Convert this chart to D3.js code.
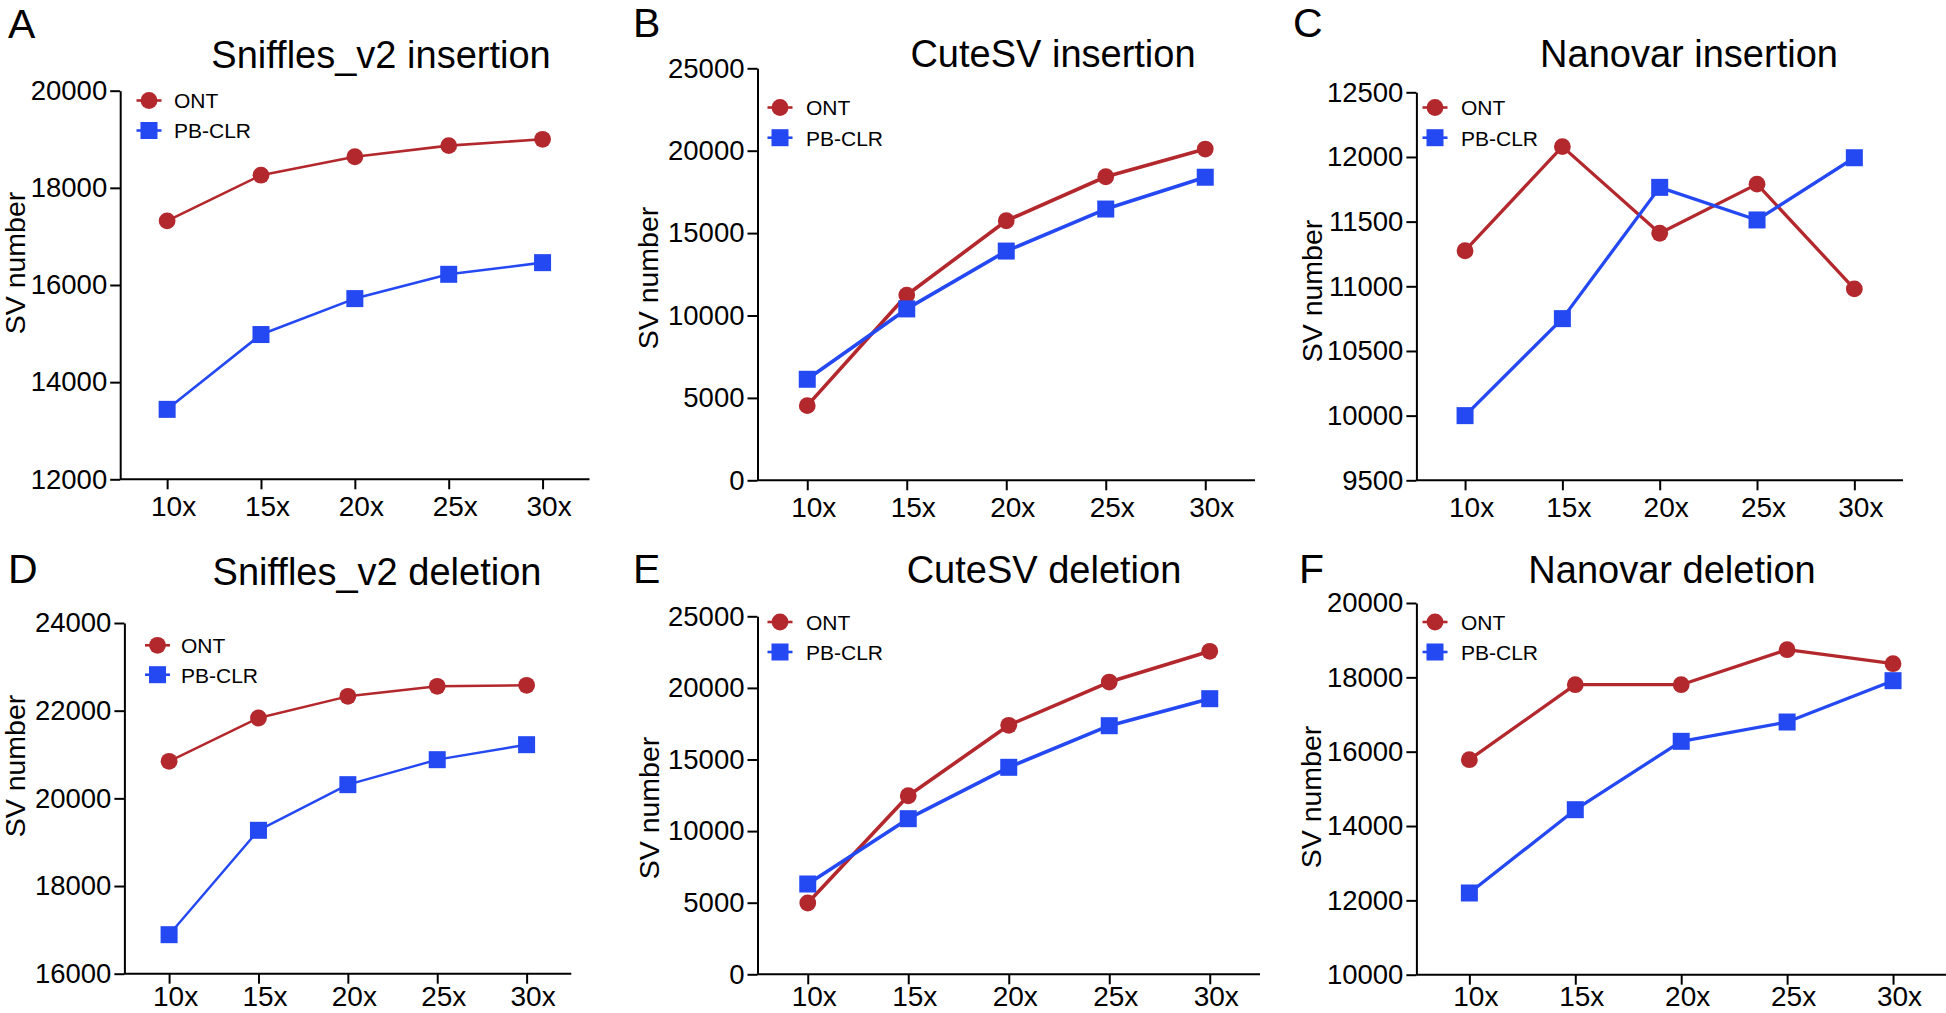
<!DOCTYPE html>
<html>
<head>
<meta charset="utf-8">
<script src="https://cdn.jsdelivr.net/npm/d3@7"></script>
<style>
  html, body { margin: 0; padding: 0; background: #fff; }
  svg { display: block; }
  text { font-family: "Liberation Sans", Arial, Helvetica, sans-serif; fill: #000; }
</style>
</head>
<body>
<svg id="chart" width="1946" height="1013"></svg>
<script>
// ---------------- data ----------------
const categories = ["10x", "15x", "20x", "25x", "30x"];
const seriesNames = ["ONT", "PB-CLR"];

const snifflesInsONT = [17320, 18260, 18640, 18870, 19000];
const snifflesInsPB  = [13440, 14980, 15720, 16220, 16460];
const cutesvInsONT   = [4530, 11240, 15750, 18420, 20100];
const cutesvInsPB    = [6130, 10400, 13910, 16460, 18390];
const nanovarInsONT  = [11275, 12080, 11410, 11790, 10980];
const nanovarInsPB   = [10000, 10750, 11765, 11513, 11994];
const snifflesDelONT = [20845, 21833, 22328, 22556, 22579];
const snifflesDelPB  = [16890, 19271, 20312, 20882, 21224];
const cutesvDelONT   = [4980, 12470, 17390, 20410, 22556];
const cutesvDelPB    = [6306, 10866, 14455, 17360, 19246];
const nanovarDelONT  = [15784, 17802, 17802, 18743, 18367];
const nanovarDelPB   = [12198, 14439, 16279, 16798, 17910];

const ticksSnifflesIns = [12000, 14000, 16000, 18000, 20000];
const ticksCutesvIns   = [0, 5000, 10000, 15000, 20000, 25000];
const ticksNanovarIns  = [9500, 10000, 10500, 11000, 11500, 12000, 12500];
const ticksSnifflesDel = [16000, 18000, 20000, 22000, 24000];
const ticksCutesvDel   = [0, 5000, 10000, 15000, 20000, 25000];
const ticksNanovarDel  = [10000, 12000, 14000, 16000, 18000, 20000];

const panelLetters = ["A", "B", "C", "D", "E", "F"];
const panelTitles = ["Sniffles_v2 insertion", "CuteSV insertion", "Nanovar insertion",
                     "Sniffles_v2 deletion", "CuteSV deletion", "Nanovar deletion"];
const yLabel = "SV number";

// ---------------- styling ----------------
const RED = "#b3282d";
const BLUE = "#2448f2";

// panel layout (pixel geometry)
const layout = [
  {left:120.2, right:589.5, top:90.7, bottom:479.3, title:[381,68.3], letter:[8,37.5], ylab:[25,263], legend:[149,100.5,130.5,174], lw:2.6, xlab:37},
  {left:757.5, right:1255, top:68.3, bottom:480.3, title:[1053,66.7], letter:[633,37], ylab:[658,278], legend:[780,107.5,137.7,806], lw:3.6, xlab:37},
  {left:1416.4, right:1903, top:92.3, bottom:480.3, title:[1689,66.7], letter:[1293,37], ylab:[1322,291], legend:[1435,107.5,137.7,1461], lw:3.3, xlab:37},
  {left:124.4, right:571.3, top:623, bottom:973.7, title:[377,584.7], letter:[8,583], ylab:[25,766], legend:[157.5,645.3,674.7,181], lw:2.4, xlab:32.5},
  {left:757.5, right:1260, top:616.3, bottom:974.3, title:[1044,583], letter:[633,583], ylab:[659,808], legend:[780,622,652,806], lw:3.6, xlab:32},
  {left:1416.4, right:1946, top:603, bottom:974.7, title:[1672,583], letter:[1299,583], ylab:[1321,797], legend:[1435,622,652,1461], lw:3.3, xlab:31.5}
];

const panelData = [
  {ont: snifflesInsONT, pb: snifflesInsPB, ticks: ticksSnifflesIns},
  {ont: cutesvInsONT,   pb: cutesvInsPB,   ticks: ticksCutesvIns},
  {ont: nanovarInsONT,  pb: nanovarInsPB,  ticks: ticksNanovarIns},
  {ont: snifflesDelONT, pb: snifflesDelPB, ticks: ticksSnifflesDel},
  {ont: cutesvDelONT,   pb: cutesvDelPB,   ticks: ticksCutesvDel},
  {ont: nanovarDelONT,  pb: nanovarDelPB,  ticks: ticksNanovarDel}
];

const svg = d3.select("#chart");

function drawMarker(g, type, x, y, color) {
  if (type === "circle") {
    g.append("circle").attr("cx", x).attr("cy", y).attr("r", 8.4).attr("fill", color);
  } else {
    const s = 17;
    g.append("rect").attr("x", x - s / 2).attr("y", y - s / 2).attr("width", s).attr("height", s).attr("fill", color);
  }
}

panelData.forEach((pd, i) => {
  const L = layout[i];
  const g = svg.append("g");

  const x = d3.scalePoint().domain(categories).range([L.left, L.right]).padding(0.5);
  const y = d3.scaleLinear().domain(d3.extent(pd.ticks)).range([L.bottom, L.top]);

  // y axis
  const yAxis = g.append("g").attr("transform", `translate(${L.left},0)`)
    .call(d3.axisLeft(y).tickValues(pd.ticks).tickFormat(d3.format("d")).tickSize(10).tickSizeOuter(0).tickPadding(3));
  yAxis.selectAll("path, line").attr("stroke", "#000").attr("stroke-width", 2);
  yAxis.selectAll("text").attr("font-size", 27.5).attr("fill", "#000")
    .style("font-family", "'Liberation Sans', Arial, sans-serif");

  // x axis
  const xAxis = g.append("g").attr("transform", `translate(0,${L.bottom})`)
    .call(d3.axisBottom(x).tickSize(10).tickSizeOuter(0).tickPadding(5));
  xAxis.select("path.domain").attr("d", `M${L.left},0H${L.right}`);
  xAxis.selectAll("path, line").attr("stroke", "#000").attr("stroke-width", 2);
  xAxis.selectAll("text").attr("font-size", 28).attr("fill", "#000").attr("dx", 6)
    .attr("y", L.xlab).attr("dy", "0")
    .style("font-family", "'Liberation Sans', Arial, sans-serif");

  // lines
  const line = d3.line().x((d, j) => x(categories[j])).y(d => y(d));
  g.append("path").datum(pd.ont).attr("d", line).attr("fill", "none")
    .attr("stroke", RED).attr("stroke-width", L.lw).attr("stroke-linejoin", "round");
  g.append("path").datum(pd.pb).attr("d", line).attr("fill", "none")
    .attr("stroke", BLUE).attr("stroke-width", L.lw).attr("stroke-linejoin", "round");

  // markers
  pd.ont.forEach((v, j) => drawMarker(g, "circle", x(categories[j]), y(v), RED));
  pd.pb.forEach((v, j) => drawMarker(g, "square", x(categories[j]), y(v), BLUE));

  // legend
  const [lx, ly1, ly2, tx] = L.legend;
  [[ly1, RED, "circle", seriesNames[0]], [ly2, BLUE, "square", seriesNames[1]]].forEach(([ly, col, type, name]) => {
    g.append("line").attr("x1", lx - 12.5).attr("x2", lx + 12.5).attr("y1", ly).attr("y2", ly)
      .attr("stroke", col).attr("stroke-width", 2.6);
    drawMarker(g, type, lx, ly, col);
    g.append("text").attr("x", tx).attr("y", ly + 7.8).attr("font-size", 21).text(name);
  });

  // title
  g.append("text").attr("x", L.title[0]).attr("y", L.title[1]).attr("text-anchor", "middle")
    .attr("font-size", 38).text(panelTitles[i]);

  // panel letter
  g.append("text").attr("x", L.letter[0]).attr("y", L.letter[1]).attr("font-size", 41).text(panelLetters[i]);

  // y label
  g.append("text").attr("transform", `translate(${L.ylab[0]},${L.ylab[1]}) rotate(-90)`)
    .attr("text-anchor", "middle").attr("font-size", 28.5).text(yLabel);
});
</script>
</body>
</html>
